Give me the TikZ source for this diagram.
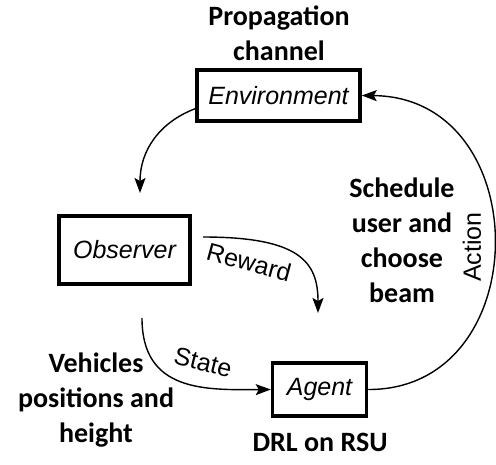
\documentclass[tikz,border=0pt]{standalone}
\usepackage{fontspec}
\setmainfont{Liberation Sans}
\newfontfamily\notefont{Carlito}
\usetikzlibrary{positioning,arrows.meta}

\begin{document}
\begin{tikzpicture}[
  x=1pt,y=-1pt,
  every node/.style={font=\fontsize{25}{30}\selectfont},
  block/.style={draw,line width=3.5pt,inner sep=0pt,font=\fontsize{25}{30}\selectfont\itshape},
  note/.style={align=center,inner sep=0pt,font=\fontsize{28}{35}\selectfont\notefont\bfseries},
  flow/.style={line width=1.4pt},
  >={Stealth[length=15pt,width=11pt,inset=3pt]},
  ]
  \useasboundingbox (0,0) rectangle (496,464);
  \node[block,minimum width=163pt,minimum height=51pt] (env) at (278.5,95.5) {Environment};
  \node[block,minimum width=131pt,minimum height=68pt] (observer) at (124.5,250) {Observer};
  \node[block,minimum width=94pt,minimum height=53pt] (agent) at (319.5,389.5) {Agent};
  \node[note] (envNote) at (279,33) {Propagation\\channel};
  \node[note] (actNote) at (402,240) {Schedule\\user and\\choose\\beam};
  \node[note] (stateNote) at (96,400) {Vehicles\\positions and\\height};
  \node[note] (agentNote) at (320,442) {DRL on RSU};
  \coordinate (obsIn) at (140,193);
  \coordinate (rewOut) at (203,237);
  \coordinate (rewIn) at (318,313);
  \coordinate (stateOut) at (142,318);
  \path[flow,draw,->]
  (env.189) .. controls (160,122) and (140,150) .. (obsIn);
  \path[flow,draw,->]
  (rewOut) .. controls (300,237) and (318,262) .. (rewIn);
  \path[flow,draw,->]
  (stateOut) .. controls (142,392) and (205,390) .. (agent.west);
  \path[flow,draw,->]
  (agent.east) .. controls (537,390) and (537,97) .. (env.east);
  \node[rotate=-15] (rewLabel) at (249,262) {Reward};
  \node[rotate=-14] (stateLabel) at (203,362) {State};
  \node[rotate=90] (actLabel) at (472,247) {Action};
\end{tikzpicture}
\end{document}
